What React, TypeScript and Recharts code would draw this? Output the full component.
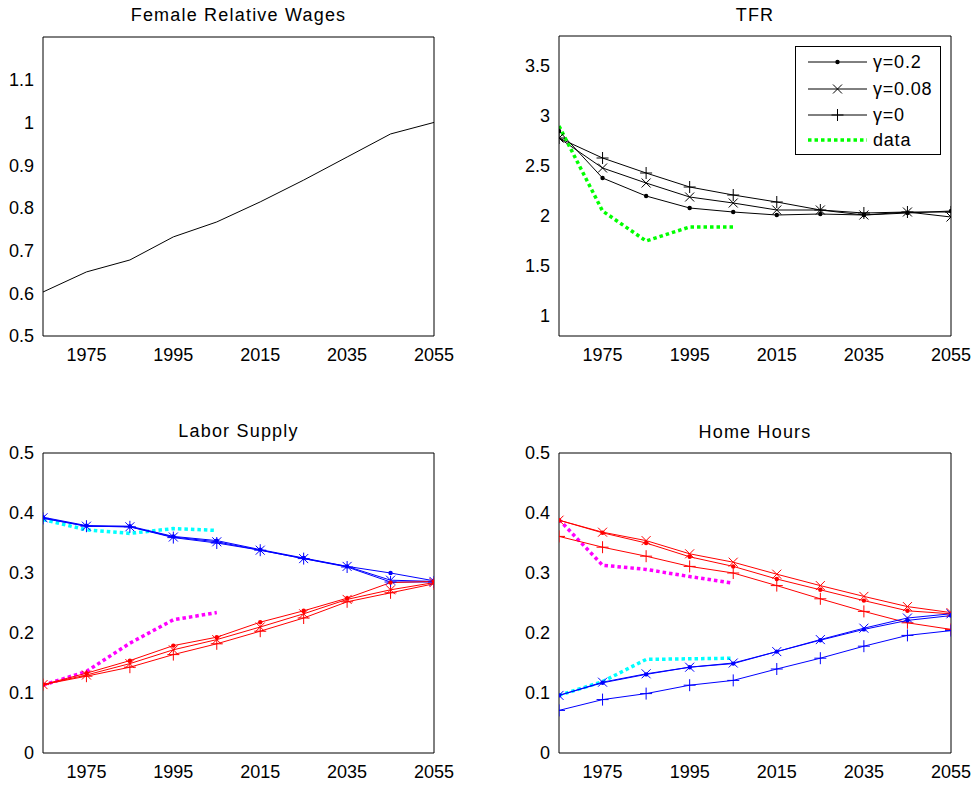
import { LineChart, Line, XAxis, YAxis, Legend } from 'recharts'

const years = [1965, 1975, 1985, 1995, 2005, 2015, 2025, 2035, 2045, 2055]
const xTicks = [1975, 1995, 2015, 2035, 2055]
const xDomain: [number, number] = [1965, 2055]

// Female relative wages
const wages = [0.603, 0.65, 0.678, 0.732, 0.767, 0.814, 0.865, 0.919, 0.973, 1.0]

// TFR
const tfrG02 = [2.85, 2.38, 2.2, 2.08, 2.04, 2.01, 2.02, 2.01, 2.03, 2.05]
const tfrG008 = [2.78, 2.48, 2.33, 2.19, 2.13, 2.06, 2.06, 2.01, 2.04, 1.99]
const tfrG0 = [2.78, 2.58, 2.43, 2.29, 2.21, 2.14, 2.06, 2.03, 2.04, 2.04]
const tfrData = [2.9, 2.05, 1.75, 1.89, 1.89]

// Labor supply
const lsMaleG02 = [0.393, 0.379, 0.378, 0.361, 0.354, 0.339, 0.325, 0.311, 0.3, 0.287]
const lsMaleG008 = [0.392, 0.378, 0.377, 0.36, 0.352, 0.338, 0.324, 0.311, 0.288, 0.286]
const lsMaleG0 = [0.391, 0.378, 0.377, 0.359, 0.35, 0.338, 0.324, 0.31, 0.285, 0.285]
const lsMaleData = [0.389, 0.372, 0.366, 0.374, 0.371]
const lsFemG02 = [0.114, 0.133, 0.154, 0.179, 0.193, 0.218, 0.237, 0.258, 0.284, 0.286]
const lsFemG008 = [0.114, 0.13, 0.149, 0.172, 0.189, 0.21, 0.232, 0.256, 0.272, 0.284]
const lsFemG0 = [0.114, 0.128, 0.143, 0.164, 0.182, 0.203, 0.225, 0.252, 0.267, 0.282]
const lsFemData = [0.113, 0.136, 0.183, 0.222, 0.234]

// Home hours
const hhFemG02 = [0.388, 0.367, 0.35, 0.327, 0.311, 0.29, 0.272, 0.254, 0.237, 0.232]
const hhFemG008 = [0.388, 0.368, 0.354, 0.332, 0.318, 0.298, 0.279, 0.261, 0.244, 0.234]
const hhFemG0 = [0.361, 0.343, 0.328, 0.311, 0.3, 0.279, 0.257, 0.236, 0.217, 0.206]
const hhFemData = [0.389, 0.313, 0.306, 0.294, 0.283]
const hhMaleG02 = [0.096, 0.117, 0.131, 0.143, 0.149, 0.169, 0.188, 0.206, 0.221, 0.229]
const hhMaleG008 = [0.096, 0.118, 0.132, 0.143, 0.15, 0.169, 0.189, 0.208, 0.225, 0.232]
const hhMaleG0 = [0.071, 0.089, 0.099, 0.113, 0.121, 0.14, 0.158, 0.178, 0.196, 0.204]
const hhMaleData = [0.096, 0.119, 0.156, 0.157, 0.158]

const legendLabels = ['\u03b3=0.2', '\u03b3=0.08', '\u03b3=0', 'data']

const FONT = '"Liberation Sans", Arial, sans-serif'
const BLUE = '#0000ff'
const RED = '#ff0000'
const CYAN = '#00ffff'
const MAGENTA = '#ff00ff'
const GREEN = '#00ff00'

function table(cols: Record<string, number[]>) {
  return years.map((year, i) => {
    const row: Record<string, number | null> = { year }
    for (const k in cols) row[k] = cols[k][i] ?? null
    return row
  })
}

const wageRows = table({ wages })
const tfrRows = table({ tfrG02, tfrG008, tfrG0, tfrData })
const lsRows = table({ lsMaleG02, lsMaleG008, lsMaleG0, lsMaleData, lsFemG02, lsFemG008, lsFemG0, lsFemData })
const hhRows = table({ hhFemG02, hhFemG008, hhFemG0, hhFemData, hhMaleG02, hhMaleG008, hhMaleG0, hhMaleData })

type Kind = 'dot' | 'x' | 'plus'

function drawMarker(kind: Kind, color: string, cx: number, cy: number, key?: string) {
  if (kind === 'dot') return <circle key={key} cx={cx} cy={cy} r={2.2} fill={color} stroke="none" />
  if (kind === 'x') {
    const d = 4.5
    return (
      <path key={key} d={`M${cx - d},${cy - d}L${cx + d},${cy + d}M${cx - d},${cy + d}L${cx + d},${cy - d}`}
        stroke={color} strokeWidth={1} fill="none" />
    )
  }
  const d = 6
  return (
    <path key={key} d={`M${cx - d},${cy}L${cx + d},${cy}M${cx},${cy - d}L${cx},${cy + d}`}
      stroke={color} strokeWidth={1} fill="none" />
  )
}

function marker(kind: Kind, color: string) {
  return (props: any) => {
    const { cx, cy, index } = props
    const key = `${kind}-${color}-${index}`
    if (cx == null || cy == null || props.value == null) return <g key={key} />
    return drawMarker(kind, color, cx, cy, key)
  }
}

const fmt = (v: number) => String(+v.toFixed(1))

// MATLAB style box: inward ticks on all four sides
function frame(yDomain: [number, number], yTicks: number[]) {
  const common = { tick: false as const, tickSize: 5, tickLine: { stroke: '#000' }, allowDataOverflow: true }
  return [
    <XAxis key="xb" xAxisId="xb" type="number" orientation="bottom" mirror domain={xDomain} ticks={xTicks}
      axisLine={false} {...common} />,
    <XAxis key="xt" xAxisId="xt" type="number" orientation="top" mirror domain={xDomain} ticks={xTicks}
      axisLine={{ stroke: '#000' }} {...common} />,
    <YAxis key="yl" yAxisId="yl" type="number" orientation="left" mirror domain={yDomain} ticks={yTicks}
      axisLine={false} {...common} />,
    <YAxis key="yr" yAxisId="yr" type="number" orientation="right" mirror domain={yDomain} ticks={yTicks}
      axisLine={{ stroke: '#000' }} {...common} />,
  ]
}

function mainAxes(yDomain: [number, number], yTicks: number[], yWidth: number) {
  return [
    <XAxis key="x" dataKey="year" type="number" domain={xDomain} ticks={xTicks} interval={0} allowDataOverflow
      height={30} tickLine={false} tickSize={8} tickMargin={4} axisLine={{ stroke: '#000' }}
      tick={{ fill: '#000', fontSize: 18 }} />,
    <YAxis key="y" type="number" domain={yDomain} ticks={yTicks} interval={0} allowDataOverflow width={yWidth}
      tickLine={false} tickSize={5} tickMargin={4} axisLine={{ stroke: '#000' }} tickFormatter={fmt}
      tick={{ fill: '#000', fontSize: 18 }} />,
  ]
}

function series(key: string, color: string, kind: Kind | null) {
  return (
    <Line key={key} dataKey={key} type="linear" stroke={color} strokeWidth={1}
      dot={kind ? marker(kind, color) : false} activeDot={false} isAnimationActive={false} />
  )
}

function dataSeries(key: string, color: string) {
  return (
    <Line key={key} dataKey={key} type="linear" stroke={color} strokeWidth={3.5} strokeDasharray="3.5 3"
      dot={false} activeDot={false} isAnimationActive={false} />
  )
}

function TfrLegend() {
  const kinds: (Kind | null)[] = ['dot', 'x', 'plus', null]
  const rows = [16, 43, 69, 94]
  return (
    <svg width={146} height={109} style={{ display: 'block' }}>
      <rect x={0.5} y={0.5} width={145} height={108} fill="#fff" stroke="#000" />
      {legendLabels.map((label, i) => (
        <g key={label}>
          {kinds[i] ? (
            <line x1={13} x2={72} y1={rows[i]} y2={rows[i]} stroke="#000" strokeWidth={1} />
          ) : (
            <line x1={13} x2={72} y1={rows[i]} y2={rows[i]} stroke={GREEN} strokeWidth={3.5} strokeDasharray="3.5 3" />
          )}
          {kinds[i] && drawMarker(kinds[i] as Kind, '#000', 42.5, rows[i])}
          <text x={78} y={rows[i]} dy="0.36em" fontSize={18} letterSpacing={0.8} fill="#000" fontFamily={FONT}>{label}</text>
        </g>
      ))}
    </svg>
  )
}

function Title({ text, left, top, width }: { text: string; left: number; top: number; width: number }) {
  return (
    <div style={{ position: 'absolute', left, top, width, textAlign: 'center', fontSize: 18, lineHeight: '18px', letterSpacing: 1.2 }}>
      {text}
    </div>
  )
}

export default function App() {
  return (
    <div style={{ position: 'absolute', left: 0, top: 0, width: 975, height: 787, background: '#fff', fontFamily: FONT, color: '#000' }}>
      <Title text="Female Relative Wages" left={43} top={6} width={391} />
      <Title text="TFR" left={559} top={6} width={392} />
      <Title text="Labor Supply" left={43} top={422} width={391} />
      <Title text="Home Hours" left={559} top={423} width={392} />

      <div style={{ position: 'absolute', left: 0, top: 0 }}>
        <LineChart width={460} height={380} data={wageRows} margin={{ top: 37, right: 26, bottom: 14, left: 0 }}>
          {mainAxes([0.5, 1.2], [0.5, 0.6, 0.7, 0.8, 0.9, 1, 1.1], 43)}
          {frame([0.5, 1.2], [0.5, 0.6, 0.7, 0.8, 0.9, 1, 1.1])}
          {series('wages', '#000', null)}
        </LineChart>
      </div>

      <div style={{ position: 'absolute', left: 490, top: 0 }}>
        <LineChart width={485} height={380} data={tfrRows} margin={{ top: 36, right: 24, bottom: 14, left: 0 }}>
          {mainAxes([0.8, 3.8], [1, 1.5, 2, 2.5, 3, 3.5], 69)}
          {frame([0.8, 3.8], [1, 1.5, 2, 2.5, 3, 3.5])}
          {series('tfrG02', '#000', 'dot')}
          {series('tfrG008', '#000', 'x')}
          {series('tfrG0', '#000', 'plus')}
          {dataSeries('tfrData', GREEN)}
          <Legend layout="vertical" align="center" verticalAlign="middle" content={() => <TfrLegend />}
            wrapperStyle={{ left: 305, top: 46, width: 146, height: 109 }} />
        </LineChart>
      </div>

      <div style={{ position: 'absolute', left: 0, top: 410 }}>
        <LineChart width={460} height={377} data={lsRows} margin={{ top: 43, right: 26, bottom: 4, left: 0 }}>
          {mainAxes([0, 0.5], [0, 0.1, 0.2, 0.3, 0.4, 0.5], 43)}
          {frame([0, 0.5], [0, 0.1, 0.2, 0.3, 0.4, 0.5])}
          {dataSeries('lsMaleData', CYAN)}
          {dataSeries('lsFemData', MAGENTA)}
          {series('lsMaleG02', BLUE, 'dot')}
          {series('lsMaleG008', BLUE, 'x')}
          {series('lsMaleG0', BLUE, 'plus')}
          {series('lsFemG02', RED, 'dot')}
          {series('lsFemG008', RED, 'x')}
          {series('lsFemG0', RED, 'plus')}
        </LineChart>
      </div>

      <div style={{ position: 'absolute', left: 490, top: 410 }}>
        <LineChart width={485} height={377} data={hhRows} margin={{ top: 43, right: 24, bottom: 4, left: 0 }}>
          {mainAxes([0, 0.5], [0, 0.1, 0.2, 0.3, 0.4, 0.5], 69)}
          {frame([0, 0.5], [0, 0.1, 0.2, 0.3, 0.4, 0.5])}
          {dataSeries('hhFemData', MAGENTA)}
          {dataSeries('hhMaleData', CYAN)}
          {series('hhFemG02', RED, 'dot')}
          {series('hhFemG008', RED, 'x')}
          {series('hhFemG0', RED, 'plus')}
          {series('hhMaleG02', BLUE, 'dot')}
          {series('hhMaleG008', BLUE, 'x')}
          {series('hhMaleG0', BLUE, 'plus')}
        </LineChart>
      </div>
    </div>
  )
}
